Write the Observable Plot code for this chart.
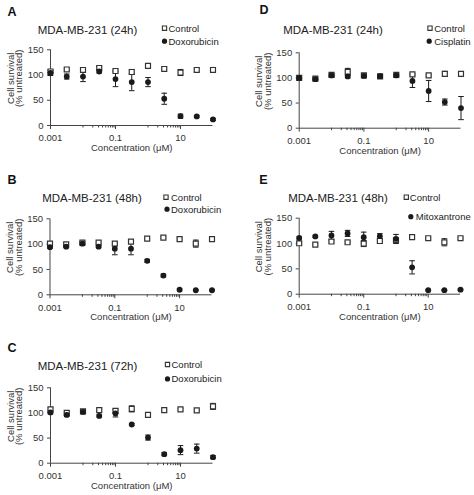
<!DOCTYPE html>
<html><head><meta charset="utf-8">
<script src="https://cdn.jsdelivr.net/npm/d3@7"></script>
<script src="https://cdn.jsdelivr.net/npm/@observablehq/plot@0.6"></script>
<style>
body{margin:0;background:#fff;width:474px;height:495px;position:relative;overflow:hidden;font-family:"Liberation Sans",Arial,sans-serif}
.panel{position:absolute;width:237px;height:165px}
.panel svg{overflow:visible}
</style></head><body>
<script>
// Concentrations (µM), shared by every panel
const conc = [0.001, 0.00316, 0.01, 0.0316, 0.1, 0.316, 1, 3.16, 10, 31.6, 100];
const xTicks = [0.001, 0.1, 10];
const xTickLabels = ["0.001", "0.1", "10"];
const minorTicks = [0.01, 0.02, 0.03, 0.04, 0.05, 0.06, 0.07, 0.08, 0.09, 1, 2, 3, 4, 5, 6, 7, 8, 9];
const yTicks = [0, 50, 100, 150];

// Panel A: MDA-MB-231 (24h), Doxorubicin
const ctrlA    = [107, 111, 110, 114, 108, 106, 118, 112, 105, 110, 110];
const ctrlAErr = [2, 2, 2, 3, 2, 5, 4, 2, 6, 3, 5];
const doxA     = [104, 97, 97, 107, 92, 86, 86, 53, 18.5, 18, 12];
const doxAErr  = [5, 5, 10, 3, 15, 17, 9, 11, 4, 2, 2];

// Panel B: MDA-MB-231 (48h), Doxorubicin
const ctrlB    = [101, 99.5, 103, 103, 101, 105, 111, 113, 110, 101, 110];
const ctrlBErr = [2, 2, 2, 2, 3, 3, 2, 2, 2, 7, 2];
const doxB     = [94, 95, 101, 95, 91, 91, 67, 38, 10, 9, 9];
const doxBErr  = [2, 2, 3, 2, 12, 12, 3, 3, 2, 1, 1];

// Panel C: MDA-MB-231 (72h), Doxorubicin
const ctrlC    = [107, 100, 103, 105.5, 104, 108, 96, 105.5, 107, 105, 113];
const ctrlCErr = [3, 2, 2, 2, 4, 6, 2, 2, 2, 2, 6];
const doxC     = [101, 96, 102, 94, 99, 77, 51, 18, 26, 29, 12];
const doxCErr  = [3, 3, 2, 2, 7, 2, 5, 3, 9, 9, 3];

// Panel D: MDA-MB-231 (24h), Cisplatin
const ctrlD    = [100, 98.5, 106, 112, 105, 103, 106, 107, 105, 108, 108];
const ctrlDErr = [2, 2, 2, 7, 2, 2, 2, 2, 2, 5, 2];
const cisD     = [100, 97.5, 105, 103, 104, 103.5, 105, 94, 74, 52, 40];
const cisDErr  = [4, 2, 3, 3, 2, 3, 2, 13, 21, 6, 23];

// Panel E: MDA-MB-231 (48h), Mitoxantrone
const ctrlE    = [100.5, 98, 104, 102.5, 100, 105, 106.5, 112.5, 110.5, 102.5, 110.5];
const ctrlEErr = [2, 2, 2, 2, 6, 2, 4, 2, 2, 7, 2];
const mitE     = [111, 114, 116, 120, 112.5, 114.5, 109, 53, 8, 8, 9];
const mitEErr  = [2, 2, 8, 6, 10, 5, 9, 13, 1, 1, 1];

const ctrlName = "Control";
const yLabel1 = "Cell survival";
const yLabel2 = "(% untreated)";
const xLabel = "Concentration (\u03bcM)";

const panels = [
  {letter:"A", title:"MDA-MB-231 (24h)", drugName:"Doxorubicin", ctrl:ctrlA, ctrlErr:ctrlAErr, drug:doxA, drugErr:doxAErr,
   pos:[0,0], frame:[50,49.3,212.5,125], let:[7,15], tit:[87,33], leg:[[164,168,31],[164,168,44]]},
  {letter:"B", title:"MDA-MB-231 (48h)", drugName:"Doxorubicin", ctrl:ctrlB, ctrlErr:ctrlBErr, drug:doxB, drugErr:doxBErr,
   pos:[0,165], frame:[49.5,53.3,211.5,129.3], let:[7,18], tit:[91.5,36], leg:[[165.5,170.5,35],[166.5,170.5,47]]},
  {letter:"C", title:"MDA-MB-231 (72h)", drugName:"Doxorubicin", ctrl:ctrlC, ctrlErr:ctrlCErr, drug:doxC, drugErr:doxCErr,
   pos:[0,330], frame:[50,57.3,212.5,132.7], let:[7,21], tit:[87,39.3], leg:[[167,171,37.3],[167,171,51.7]]},
  {letter:"D", title:"MDA-MB-231 (24h)", drugName:"Cisplatin", ctrl:ctrlD, ctrlErr:ctrlDErr, drug:cisD, drugErr:cisDErr,
   pos:[237,0], frame:[61.7,52.3,223.5,127.7], let:[22,13.5], tit:[95.5,33], leg:[[192.5,196.7,31],[191.7,196.7,44]]},
  {letter:"E", title:"MDA-MB-231 (48h)", drugName:"Mitoxantrone", ctrl:ctrlE, ctrlErr:ctrlEErr, drug:mitE, drugErr:mitEErr,
   pos:[237,165], frame:[61.7,52.7,223,128.7], let:[21.7,18.3], tit:[100.5,36.7], leg:[[168.8,172.3,35],[173.3,178.3,54.5]]}
];

const ink = "#1a1a1a";
const axisInk = "#444";
const cap = {draw(ctx) { ctx.moveTo(-2.8, 0); ctx.lineTo(2.8, 0); }};

function makePanel(p) {
  const W = 237, H = 165;
  const [fl, ft, fr, fb] = p.frame;
  const ml = fl, mt = ft, mr = W - fr, mb = H - fb;
  const rows = conc.map((c, i) => ({c, v: p.ctrl[i], e: p.ctrlErr[i], dv: p.drug[i], de: p.drugErr[i]}));
  const T = (text, x, y, o = {}) => Plot.text([text], {text: d => d, frameAnchor: "top-left", dx: x - ml, dy: y - mt,
    lineAnchor: "bottom", textAnchor: "start", fontSize: 9.5, fill: "#222", ...o});
  const L = (x, y, o) => Plot.dot([0], {frameAnchor: "top-left", dx: x - ml, dy: y - mt, ...o});
  const midX = (fl + fr) / 2;
  return Plot.plot({
    width: W, height: H, marginLeft: ml, marginTop: mt, marginRight: mr, marginBottom: mb,
    style: {fontFamily: "'Liberation Sans', Arial, sans-serif", color: axisInk, background: "transparent", overflow: "visible"},
    x: {type: "log", domain: [0.001, 100]},
    y: {domain: [0, 150]},
    marks: [
      Plot.axisY(yTicks, {tickSize: 3, tickPadding: 4, fontSize: 9.5, label: null, fill: "#333"}),
      Plot.axisX(xTicks, {tickSize: 4, tickPadding: 5, fontSize: 9.5, label: null, fill: "#333",
        tickFormat: d => xTickLabels[xTicks.indexOf(d)]}),
      Plot.axisX(minorTicks, {tickSize: 2.5, tickFormat: () => "", label: null}),
      Plot.ruleY([0], {stroke: axisInk}),
      Plot.ruleX([0.001], {stroke: axisInk, y1: 0, y2: 150}),
      // drug error bars
      Plot.ruleX(rows, {x: "c", y1: d => d.dv - d.de, y2: d => d.dv + d.de, stroke: ink, strokeWidth: 1}),
      Plot.dot(rows, {x: "c", y: d => d.dv + d.de, symbol: cap, fill: "none", stroke: ink, strokeWidth: 1}),
      Plot.dot(rows, {x: "c", y: d => d.dv - d.de, symbol: cap, fill: "none", stroke: ink, strokeWidth: 1}),
      // control error bars
      Plot.ruleX(rows, {x: "c", y1: d => d.v - d.e, y2: d => d.v + d.e, stroke: ink, strokeWidth: 1}),
      Plot.dot(rows, {x: "c", y: d => d.v + d.e, symbol: cap, fill: "none", stroke: ink, strokeWidth: 1}),
      Plot.dot(rows, {x: "c", y: d => d.v - d.e, symbol: cap, fill: "none", stroke: ink, strokeWidth: 1}),
      // markers
      Plot.dot(rows, {x: "c", y: "v", symbol: "square", r: 2.8, fill: "white", stroke: "#333", strokeWidth: 1.2}),
      Plot.dot(rows, {x: "c", y: "dv", symbol: "circle", r: 2.9, fill: ink, stroke: "none"}),
      // letter, title, legend
      T(p.letter, p.let[0], p.let[1], {fontSize: 12.5, fontWeight: "bold", fill: "#111"}),
      T(p.title, p.tit[0], p.tit[1], {fontSize: 11.5, textAnchor: "middle", fill: "#222"}),
      L(p.leg[0][0], p.leg[0][2] - 3.3, {symbol: "square", r: 2.4, fill: "white", stroke: "#333", strokeWidth: 1.1}),
      T(ctrlName, p.leg[0][1], p.leg[0][2]),
      L(p.leg[1][0], p.leg[1][2] - 3.3, {symbol: "circle", r: 2.6, fill: ink}),
      T(p.drugName, p.leg[1][1], p.leg[1][2]),
      // axis titles
      T(xLabel, midX, fb + 25.5, {textAnchor: "middle", fill: "#333"}),
      T(yLabel1, fl - 37, ft + 28.5, {textAnchor: "middle", rotate: -90, fill: "#333"}),
      T(yLabel2, fl - 28.5, ft + 28.5, {textAnchor: "middle", rotate: -90, fill: "#333"})
    ]
  });
}

for (const p of panels) {
  const div = document.createElement("div");
  div.className = "panel";
  div.style.left = p.pos[0] + "px";
  div.style.top = p.pos[1] + "px";
  div.appendChild(makePanel(p));
  document.body.appendChild(div);
}
</script>
</body></html>
